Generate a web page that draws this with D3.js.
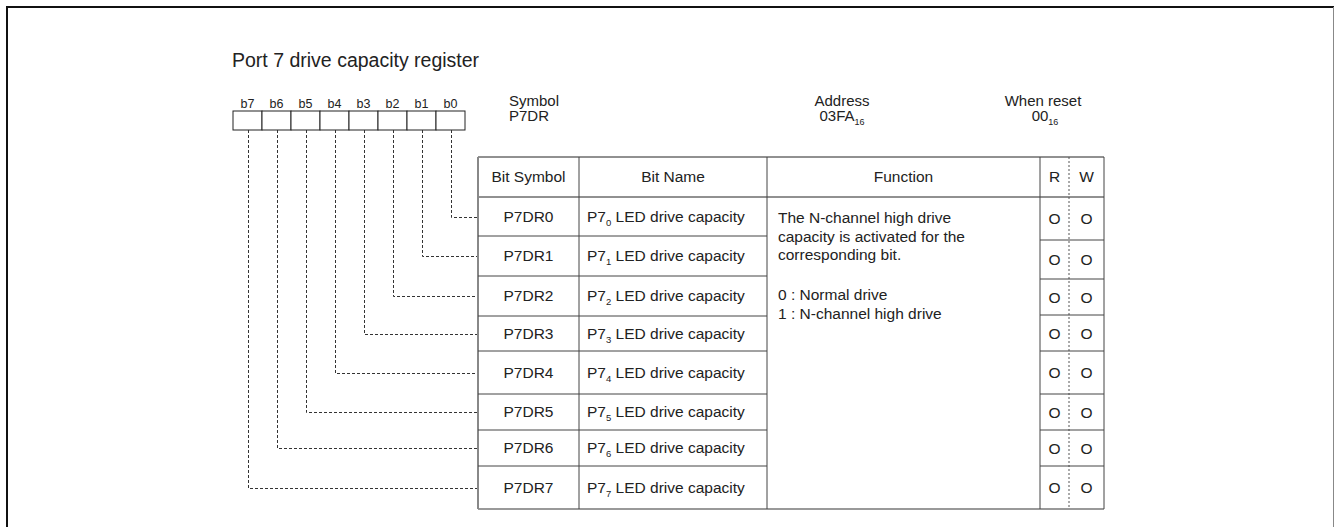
<!DOCTYPE html>
<html><head><meta charset="utf-8">
<script src="https://cdn.jsdelivr.net/npm/d3@7"></script>
<style>
html,body{margin:0;padding:0;background:#fff;}
svg text{font-family:"Liberation Sans",Arial,Helvetica,sans-serif;fill:#222;}
</style></head>
<body>
<svg id="c" width="1335" height="527"></svg>
<script>
// ---- data ----
const title = "Port 7 drive capacity register";
const bitLabels = ["b7","b6","b5","b4","b3","b2","b1","b0"];
const bitSymbols = ["P7DR0","P7DR1","P7DR2","P7DR3","P7DR4","P7DR5","P7DR6","P7DR7"];
const bitIndex = ["0","1","2","3","4","5","6","7"];
const headers = ["Bit Symbol","Bit Name","Function","R","W"];
const functionLines = ["The N-channel high drive","capacity is activated for the","corresponding bit.","0 : Normal drive","1 : N-channel high drive"];
const readFlags = ["O","O","O","O","O","O","O","O"];
const writeFlags = ["O","O","O","O","O","O","O","O"];
const symbolName = "P7DR";
const address = "03FA";
const resetValue = "00";

// ---- layout ----
const svg = d3.select("#c");
const FS = 15.5;
const HFS = 15;
const rowEdges = [197,236,276,316,351,394,430,466,509];
const rwEdges  = [197,240,279,315,351,394,430,466,509];
const fnBaselines = [223,241.5,260,300,318.5];
const colX = {sym:478, name:579, func:767, r:1040, rw:1069, right:1104};
const tableTop = 157;

// frame
svg.append("line").attr("x1",6).attr("y1",7).attr("x2",1334).attr("y2",7).attr("stroke","#111").attr("stroke-width",2);
svg.append("line").attr("x1",7).attr("y1",6).attr("x2",7).attr("y2",527).attr("stroke","#111").attr("stroke-width",2);
svg.append("line").attr("x1",1333.5).attr("y1",7).attr("x2",1333.5).attr("y2",527).attr("stroke","#888").attr("stroke-width",1);

svg.append("text").attr("x",232).attr("y",67).attr("font-size",19.5).text(title);

// bit boxes
const xb = d3.scaleBand().domain(bitLabels).range([233,465]).padding(0);
const bits = svg.append("g");
bits.selectAll("rect").data(bitLabels).join("rect")
  .attr("x",d=>xb(d)).attr("y",111).attr("width",xb.bandwidth()).attr("height",19)
  .attr("fill","#fff").attr("stroke","#222").attr("stroke-width",1);
bits.selectAll("text").data(bitLabels).join("text")
  .attr("x",d=>xb(d)+xb.bandwidth()/2).attr("y",108).attr("text-anchor","middle")
  .attr("font-size",12.5).text(d=>d);

// row scales
const yRow = d3.scaleOrdinal().domain(bitSymbols).range(rowEdges.slice(0,8));
const hRow = d3.scaleOrdinal().domain(bitSymbols).range(d3.pairs(rowEdges).map(p=>p[1]-p[0]));
const yRW = d3.scaleOrdinal().domain(bitSymbols).range(rwEdges.slice(0,8));
const hRW = d3.scaleOrdinal().domain(bitSymbols).range(d3.pairs(rwEdges).map(p=>p[1]-p[0]));
const cy = d=>yRow(d)+hRow(d)/2;

// connectors: bit b_i -> row P7DRi
const conn = svg.append("g").attr("fill","none").attr("stroke","#333").attr("stroke-width",1).attr("stroke-dasharray","3,2");
bitSymbols.forEach((s,i)=>{
  const b = "b"+bitIndex[i];
  const x = Math.round(xb(b)+xb.bandwidth()/2)+0.5;
  conn.append("path").attr("d",`M${x},130 V${Math.round(cy(s))+0.5} H${colX.sym}`);
});

// header texts
svg.append("text").attr("x",509).attr("y",106).attr("font-size",HFS).text("Symbol");
svg.append("text").attr("x",509).attr("y",121).attr("font-size",HFS).text(symbolName);
svg.append("text").attr("x",842).attr("y",106).attr("font-size",HFS).attr("text-anchor","middle").text("Address");
const ad = svg.append("text").attr("x",842).attr("y",121).attr("font-size",HFS).attr("text-anchor","middle");
ad.append("tspan").text(address);
ad.append("tspan").attr("font-size",9).attr("dy",4).text("16");
svg.append("text").attr("x",1043).attr("y",106).attr("font-size",HFS).attr("text-anchor","middle").text("When reset");
const rv = svg.append("text").attr("x",1045).attr("y",121).attr("font-size",HFS).attr("text-anchor","middle");
rv.append("tspan").text(resetValue);
rv.append("tspan").attr("font-size",9).attr("dy",4).text("16");

// table
const tbl = svg.append("g");
const stroke = "#444";
tbl.append("line").attr("x1",colX.sym).attr("x2",colX.right).attr("y1",tableTop).attr("y2",tableTop).attr("stroke","#222");
tbl.append("line").attr("x1",colX.sym).attr("x2",colX.right).attr("y1",197).attr("y2",197).attr("stroke","#222");
tbl.append("line").attr("x1",colX.sym).attr("x2",colX.right).attr("y1",509).attr("y2",509).attr("stroke","#777").attr("stroke-width",1.5);
[[colX.sym,"#888",2],[colX.name,stroke,1],[colX.func,stroke,1],[colX.r,stroke,1],[colX.right,stroke,1]].forEach(v=>{
  tbl.append("line").attr("x1",v[0]).attr("x2",v[0]).attr("y1",tableTop).attr("y2",509).attr("stroke",v[1]).attr("stroke-width",v[2]);
});
tbl.append("line").attr("x1",colX.rw).attr("x2",colX.rw).attr("y1",tableTop).attr("y2",509).attr("stroke","#555").attr("stroke-dasharray","2,2");
tbl.selectAll("line.row").data(bitSymbols.slice(1)).join("line").attr("class","row")
  .attr("x1",colX.sym).attr("x2",colX.func).attr("y1",d=>yRow(d)).attr("y2",d=>yRow(d)).attr("stroke",stroke);
tbl.selectAll("line.rw").data(bitSymbols.slice(1)).join("line").attr("class","rw")
  .attr("x1",colX.r).attr("x2",colX.right).attr("y1",d=>yRW(d)).attr("y2",d=>yRW(d)).attr("stroke",stroke);

// header labels
const hx = [(colX.sym+colX.name)/2,(colX.name+colX.func)/2,(colX.func+colX.r)/2,(colX.r+colX.rw)/2,(colX.rw+colX.right)/2];
tbl.selectAll("text.h").data(headers).join("text").attr("class","h")
  .attr("x",(d,i)=>hx[i]).attr("y",182).attr("text-anchor","middle").attr("font-size",FS).text(d=>d);

// rows
tbl.selectAll("text.sym").data(bitSymbols).join("text").attr("class","sym")
  .attr("x",hx[0]).attr("y",d=>cy(d)+5).attr("text-anchor","middle").attr("font-size",FS).text(d=>d);
const nm = tbl.selectAll("text.nm").data(bitSymbols).join("text").attr("class","nm")
  .attr("x",colX.name+8).attr("y",d=>cy(d)+5).attr("font-size",FS);
nm.append("tspan").text("P7");
nm.append("tspan").attr("font-size",9.5).attr("dy",4).text((d,i)=>bitIndex[i]);
nm.append("tspan").attr("dy",-4).text(" LED drive capacity");

tbl.selectAll("text.fn").data(functionLines).join("text").attr("class","fn")
  .attr("x",colX.func+11).attr("y",(d,i)=>fnBaselines[i]).attr("font-size",FS).text(d=>d);

tbl.selectAll("text.rf").data(bitSymbols).join("text").attr("class","rf")
  .attr("x",hx[3]).attr("y",d=>yRW(d)+hRW(d)/2+5.5).attr("text-anchor","middle").attr("font-size",FS).text((d,i)=>readFlags[i]);
tbl.selectAll("text.wf").data(bitSymbols).join("text").attr("class","wf")
  .attr("x",hx[4]).attr("y",d=>yRW(d)+hRW(d)/2+5.5).attr("text-anchor","middle").attr("font-size",FS).text((d,i)=>writeFlags[i]);
</script>
</body></html>
